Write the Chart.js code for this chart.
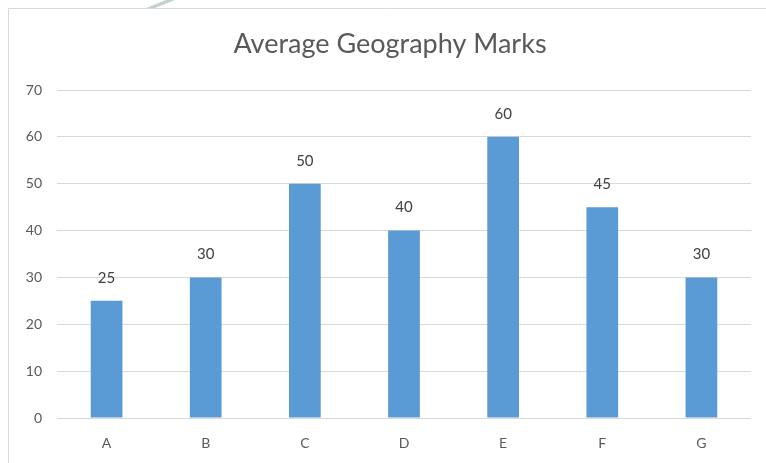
<!DOCTYPE html>
<html lang="en">
<head>
    <meta charset="UTF-8">
    <title>Average Geography Marks</title>
    <style>
        html, body { margin: 0; padding: 0; background: #fff; overflow: hidden; }
        #wrap { width: 766px; height: 463px; position: relative; }
    </style>
</head>
<body>
    <div id="wrap"><canvas id="barChart"></canvas></div>

    <script src="https://cdn.jsdelivr.net/npm/chart.js"></script>
    <script>
        // chart data
        const categories = ['A', 'B', 'C', 'D', 'E', 'F', 'G'];
        const marks = [25, 30, 50, 40, 60, 45, 30];
        const yTicks = [0, 10, 20, 30, 40, 50, 60, 70];
        const chartTitle = 'Average Geography Marks';

        const fontName = 'Lato, "Open Sans", sans-serif';

        // outer frame, title (centred on the frame, not the canvas) and the watermark stroke
        const framePlugin = {
            id: 'frame',
            beforeDraw(chart) {
                const ctx = chart.ctx;
                ctx.save();
                ctx.strokeStyle = '#d9d9d9';
                ctx.lineWidth = 1;
                ctx.beginPath();
                ctx.moveTo(766, 8.5);
                ctx.lineTo(8.5, 8.5);
                ctx.lineTo(8.5, 463);
                ctx.stroke();

                ctx.fillStyle = '#c2d3cc';
                ctx.beginPath();
                ctx.moveTo(146, 8);
                ctx.lineTo(155, 8);
                ctx.lineTo(175, 0);
                ctx.lineTo(166, 0);
                ctx.closePath();
                ctx.fill();

                ctx.font = '27px ' + fontName;
                ctx.fillStyle = '#595959';
                ctx.textAlign = 'center';
                ctx.textBaseline = 'middle';
                ctx.fillText(chartTitle, 390, 44);
                ctx.restore();
            }
        };

        // value labels over each bar
        const valueLabels = {
            id: 'valueLabels',
            afterDatasetsDraw(chart) {
                const ctx = chart.ctx;
                const meta = chart.getDatasetMeta(0);
                ctx.save();
                ctx.font = '15px ' + fontName;
                ctx.fillStyle = '#404040';
                ctx.textAlign = 'center';
                ctx.textBaseline = 'middle';
                meta.data.forEach((bar, i) => {
                    ctx.fillText(marks[i], bar.x, bar.y - 23);
                });
                ctx.restore();
            }
        };

        const ctx = document.getElementById('barChart').getContext('2d');
        new Chart(ctx, {
            type: 'bar',
            data: {
                labels: categories,
                datasets: [{
                    label: 'Marks',
                    data: marks,
                    backgroundColor: '#5b9bd5',
                    borderWidth: 0,
                    categoryPercentage: 1,
                    barPercentage: 0.32
                }]
            },
            options: {
                responsive: true,
                maintainAspectRatio: false,
                animation: false,
                layout: { padding: { top: 90, right: 15, bottom: 0, left: 0 } },
                plugins: {
                    legend: { display: false },
                    tooltip: { enabled: false },
                    title: { display: false }
                },
                scales: {
                    x: {
                        grid: { display: false },
                        border: { display: false },
                        ticks: {
                            color: '#595959',
                            font: { family: fontName, size: 14 },
                            padding: 9
                        },
                        afterFit(scale) { scale.height = 45; }
                    },
                    y: {
                        min: 0,
                        max: 70,
                        afterBuildTicks(scale) {
                            scale.ticks = yTicks.map(v => ({ value: v }));
                        },
                        grid: { color: '#d9d9d9', drawTicks: false },
                        border: { display: false },
                        ticks: {
                            color: '#595959',
                            font: { family: fontName, size: 14 },
                            padding: 15
                        },
                        afterFit(scale) { scale.width = 57; }
                    }
                }
            },
            plugins: [framePlugin, valueLabels]
        });
    </script>
</body>
</html>
